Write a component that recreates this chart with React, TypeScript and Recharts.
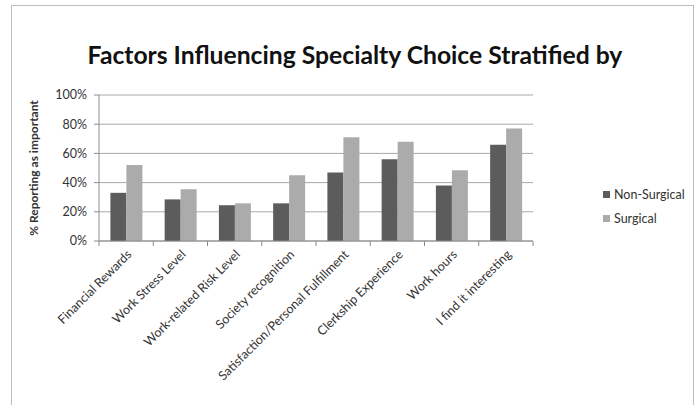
import React from "react";
import {
  BarChart,
  Bar,
  XAxis,
  YAxis,
  CartesianGrid,
  Label,
} from "recharts";

const categories = [
  "Financial Rewards",
  "Work Stress Level",
  "Work-related Risk Level",
  "Society recognition",
  "Satisfaction/Personal Fulfillment",
  "Clerkship Experience",
  "Work hours",
  "I find it interesting",
];

const nonSurgical = [33, 28.5, 24.5, 25.8, 47, 56, 38, 66];
const surgical = [52, 35.4, 25.8, 45, 71, 68, 48.5, 77];

const yTicks = [0, 20, 40, 60, 80, 100];

const seriesNames = ["Non-Surgical", "Surgical"];
const seriesColors = ["#5c5c5c", "#ababab"];

const data = categories.map((name, i) => ({
  name,
  nonSurgical: nonSurgical[i],
  surgical: surgical[i],
}));

const FONT = "Lato, 'Open Sans', sans-serif";
const PLOT_LEFT = 99;
const PLOT_RIGHT = 533;
const HALF_BAND = (PLOT_RIGHT - PLOT_LEFT) / categories.length / 2;

// category label rotated 45deg, plus tick marks on the band boundaries
function CategoryTick(props: any) {
  const { x, y, payload, index } = props;
  return (
    <g transform={`translate(${x},${y})`}>
      {index === 0 && (
        <line x1={-HALF_BAND} y1={0} x2={-HALF_BAND} y2={5} stroke="#8c8c8c" />
      )}
      <line x1={HALF_BAND} y1={0} x2={HALF_BAND} y2={5} stroke="#8c8c8c" />
      <text
        x={4}
        y={12}
        transform="rotate(-45 4 12)"
        textAnchor="end"
        dominantBaseline="middle"
        fontFamily={FONT}
        fontSize={12.5}
        fill="#333"
      >
        {payload.value}
      </text>
    </g>
  );
}

function LegendBox() {
  return (
    <div
      style={{
        position: "absolute",
        left: 603,
        top: 182,
        fontFamily: FONT,
        fontSize: 12.5,
        color: "#333",
      }}
    >
      {seriesNames.map((n, i) => (
        <div
          key={n}
          style={{ display: "flex", alignItems: "center", height: 24 }}
        >
          <span
            style={{
              width: 7,
              height: 7,
              background: seriesColors[i],
              marginRight: 4,
              display: "inline-block",
            }}
          />
          {n}
        </div>
      ))}
    </div>
  );
}

export default function App() {
  return (
    <div
      style={{
        position: "absolute",
        left: 0,
        top: 0,
        width: 700,
        height: 405,
        overflow: "hidden",
        background: "#fff",
      }}
    >
      <div
        style={{
          position: "absolute",
          left: 11,
          top: 5,
          width: 681,
          height: 430,
          border: "1.5px solid #bdbdbd",
        }}
      />
      <div
        style={{
          position: "absolute",
          left: 0,
          top: 40,
          width: 710,
          textAlign: "center",
          fontFamily: FONT,
          fontWeight: 700,
          fontSize: 24.7,
          color: "#111",
        }}
      >
        Factors Influencing Specialty Choice Stratified by
      </div>
      <div style={{ position: "absolute", left: 0, top: 0 }}>
        <BarChart
          width={700}
          height={405}
          data={data}
          margin={{ top: 95, right: 700 - PLOT_RIGHT, bottom: 0, left: 0 }}
          barGap={0}
          barCategoryGap="21%"
        >
          <CartesianGrid vertical={false} stroke="#a8a8a8" />
          <XAxis
            dataKey="name"
            height={164}
            interval={0}
            tickLine={false}
            tickSize={0}
            tickMargin={0}
            stroke="#8c8c8c"
            tick={<CategoryTick />}
          />
          <YAxis
            width={PLOT_LEFT}
            domain={[0, 100]}
            ticks={yTicks}
            tickFormatter={(v: number) => `${v}%`}
            tickSize={5}
            tickMargin={7}
            stroke="#8c8c8c"
            tick={{ fontFamily: FONT, fontSize: 12.5, fill: "#333" }}
          >
            <Label
              value="% Reporting as important"
              angle={-90}
              position="center"
              dx={-16}
              style={{
                fontFamily: FONT,
                fontSize: 12,
                fontWeight: 700,
                fill: "#333",
                textAnchor: "middle",
              }}
            />
          </YAxis>
          <Bar
            dataKey="nonSurgical"
            name={seriesNames[0]}
            fill={seriesColors[0]}
            isAnimationActive={false}
          />
          <Bar
            dataKey="surgical"
            name={seriesNames[1]}
            fill={seriesColors[1]}
            isAnimationActive={false}
          />
        </BarChart>
      </div>
      <LegendBox />
    </div>
  );
}
